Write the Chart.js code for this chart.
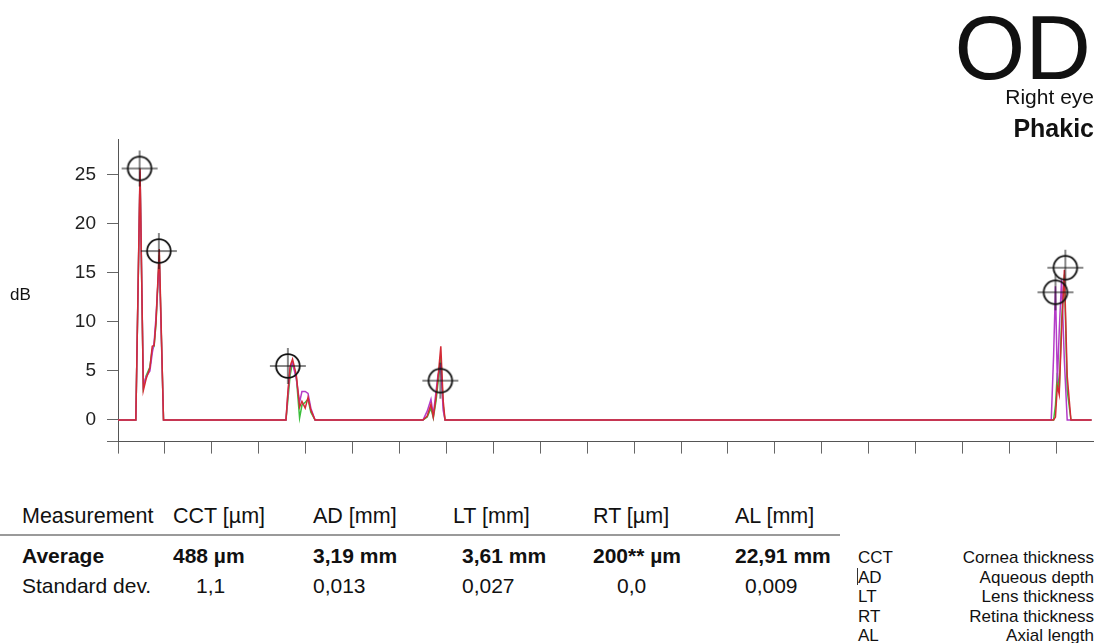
<!DOCTYPE html>
<html>
<head>
<meta charset="utf-8">
<script src="https://cdn.jsdelivr.net/npm/chart.js@4.4.1/dist/chart.umd.min.js"></script>
<style>
  body { margin: 0; background: #fff; font-family: "Liberation Sans", Arial, sans-serif; color: #111; }
  #page { position: relative; width: 1097px; height: 643px; overflow: hidden; }
  #scan { position: absolute; left: 0; top: 3px; }
  .t { position: absolute; white-space: nowrap; line-height: 1; }
  .b { font-weight: bold; }
  .r { text-align: right; }
</style>
</head>
<body>
<div id="page">
  <canvas id="scan" width="1097" height="461"></canvas>

  <div class="t r" style="right:6px; top:2px; font-size:91px;">OD</div>
  <div class="t r" style="right:3px; top:86px; font-size:21px;">Right eye</div>
  <div class="t r b" style="right:3px; top:116px; font-size:25px;">Phakic</div>

  <div class="t" style="left:10px; top:286px; font-size:17px;">dB</div>

  <div class="t" style="left:22px; top:506px; font-size:21.5px;">Measurement</div>
  <div class="t" style="left:173px; top:506px; font-size:21.5px;">CCT [µm]</div>
  <div class="t" style="left:313px; top:506px; font-size:21.5px;">AD [mm]</div>
  <div class="t" style="left:453px; top:506px; font-size:21.5px;">LT [mm]</div>
  <div class="t" style="left:593px; top:506px; font-size:21.5px;">RT [µm]</div>
  <div class="t" style="left:735px; top:506px; font-size:21.5px;">AL [mm]</div>
  <div style="position:absolute; left:0; top:534px; width:840px; height:2px; background:#9a9a9a;"></div>

  <div class="t b" style="left:22px; top:545px; font-size:21px;">Average</div>
  <div class="t b" style="left:173px; top:545px; font-size:21px;">488 µm</div>
  <div class="t b" style="left:313px; top:545px; font-size:21px;">3,19 mm</div>
  <div class="t b" style="left:462px; top:545px; font-size:21px;">3,61 mm</div>
  <div class="t b" style="left:593px; top:545px; font-size:21px;">200** µm</div>
  <div class="t b" style="left:735px; top:545px; font-size:21px;">22,91 mm</div>

  <div class="t" style="left:22px; top:575px; font-size:21px;">Standard dev.</div>
  <div class="t" style="left:196px; top:575px; font-size:21px;">1,1</div>
  <div class="t" style="left:313px; top:575px; font-size:21px;">0,013</div>
  <div class="t" style="left:462px; top:575px; font-size:21px;">0,027</div>
  <div class="t" style="left:617px; top:575px; font-size:21px;">0,0</div>
  <div class="t" style="left:745px; top:575px; font-size:21px;">0,009</div>

  <div id="legend"></div>
</div>

<script>
// A-scan traces, x in axis tick units, y in dB
const scanX = [0, 0.38, 0.47, 0.54, 0.60, 0.68, 0.73, 0.77, 0.81, 0.88, 0.97,
  3.58, 3.62, 3.67, 3.72, 3.80, 3.87, 3.92, 3.99, 4.05, 4.11, 4.20,
  6.50, 6.59, 6.67, 6.72, 6.78, 6.82, 6.88, 6.93, 6.97,
  19.89, 19.94, 19.98, 20.02, 20.06, 20.11, 20.17, 20.23, 20.31, 20.75];

const redDb = [0, 0, 25.6, 3.0, 4.2, 5.3, 7.5, 7.6, 10.0, 17.4, 0,
  0, 2.8, 5.5, 6.2, 4.6, 1.3, 1.9, 1.2, 2.3, 1.0, 0,
  0, 0.4, 1.6, 0.3, 2.4, 4.3, 7.5, 2.0, 0,
  0, 0, 0.3, 3.5, 2.6, 9.0, 15.3, 4.5, 0, 0];

const purpleDb = [0, 0, 25.3, 3.5, 4.4, 5.0, 6.8, 7.9, 10.5, 16.4, 0,
  0, 2.6, 5.3, 5.8, 4.2, 1.8, 2.9, 2.9, 2.7, 1.2, 0,
  0, 0.9, 2.1, 0.5, 3.0, 4.6, 5.6, 1.0, 0,
  0, 6.5, 13.6, 3.8, 9.0, 14.3, 6.0, 0, 0, 0];

const greenDb = [0, 0, 25.0, 3.3, 4.5, 5.4, 7.2, 7.5, 9.8, 16.8, 0,
  0, 2.0, 4.6, 5.9, 4.4, 0.2, 1.5, 1.8, 2.1, 0.8, 0,
  0, 0.3, 1.2, 0.2, 2.0, 3.8, 6.5, 1.5, 0,
  0, 0, 1.5, 4.8, 3.0, 10.0, 14.8, 3.0, 0, 0];

// gate markers (circle + cross)
const markX = [0.46, 0.87, 3.62, 6.87, 19.98, 20.19];
const markY = [25.6, 17.2, 5.5, 4.0, 13.0, 15.5];

const yTicks = [0, 5, 10, 15, 20, 25];
const xTicks = [0, 1, 2, 3, 4, 5, 6, 7, 8, 9, 10, 11, 12, 13, 14, 15, 16, 17, 18, 19, 20];
const yMin = -2.2, yMax = 28.6, xMax = 20.78;

const legendAbbr = ['CCT', 'AD', 'LT', 'RT', 'AL'];
const legendText = ['Cornea thickness', 'Aqueous depth', 'Lens thickness', 'Retina thickness', 'Axial length'];

// legend text block
const lg = document.getElementById('legend');
legendAbbr.forEach((a, i) => {
  const top = 549 + i * 19.5;
  lg.innerHTML += '<div class="t" style="left:858px; top:' + top + 'px; font-size:17px;">' + a + '</div>' +
    '<div class="t r" style="right:3px; top:' + top + 'px; font-size:17px;">' + legendText[i] + '</div>';
});
lg.innerHTML += '<div style="position:absolute; left:857px; top:568px; width:1px; height:17px; background:#333;"></div>';

function pts(ys) {
  return scanX.map((x, i) => ({ x: x, y: ys[i] }));
}

// marker glyph
const mk = document.createElement('canvas');
mk.width = 40; mk.height = 40;
const g = mk.getContext('2d');
g.strokeStyle = '#111';
g.lineWidth = 1;
g.beginPath();
g.moveTo(2, 20); g.lineTo(38, 20);
g.moveTo(20, 2); g.lineTo(20, 38);
g.stroke();
g.lineWidth = 1.8;
g.beginPath();
g.arc(20, 20, 11.8, 0, Math.PI * 2);
g.stroke();

const trace = (color, ys) => ({
  type: 'line',
  data: pts(ys),
  borderColor: color,
  borderWidth: 1.5,
  pointRadius: 0,
  tension: 0
});

new Chart(document.getElementById('scan'), {
  type: 'line',
  data: {
    datasets: [
      {
        type: 'scatter',
        data: markX.map((x, i) => ({ x: x, y: markY[i] })),
        pointStyle: mk,
        pointRadius: 20,
        clip: false
      },
      trace('#d42a35', redDb),
      trace('#b43cc8', purpleDb),
      trace('#3cbf3c', greenDb)
    ]
  },
  options: {
    responsive: false,
    animation: false,
    layout: { autoPadding: false, padding: { left: 0, top: 136, right: 4, bottom: 0 } },
    plugins: { legend: { display: false }, tooltip: { enabled: false } },
    scales: {
      x: {
        type: 'linear',
        min: 0,
        max: xMax,
        afterBuildTicks: s => { s.ticks = xTicks.map(v => ({ value: v })); },
        afterFit: s => { s.height = 20; },
        ticks: { callback: () => '' },
        grid: { drawOnChartArea: false, tickLength: 12, color: '#666', lineWidth: 1 },
        border: { color: '#555', width: 1 }
      },
      y: {
        min: yMin,
        max: yMax,
        afterBuildTicks: s => { s.ticks = [yMin].concat(yTicks).map(v => ({ value: v })); },
        afterFit: s => { s.width = 118; },
        ticks: {
          padding: 11,
          color: '#222',
          font: { family: 'Liberation Sans', size: 19 },
          callback: v => (v === yMin ? '' : v)
        },
        grid: { drawOnChartArea: false, tickLength: 11, color: '#666', lineWidth: 1 },
        border: { color: '#555', width: 1 }
      }
    }
  }
});
</script>
</body>
</html>
